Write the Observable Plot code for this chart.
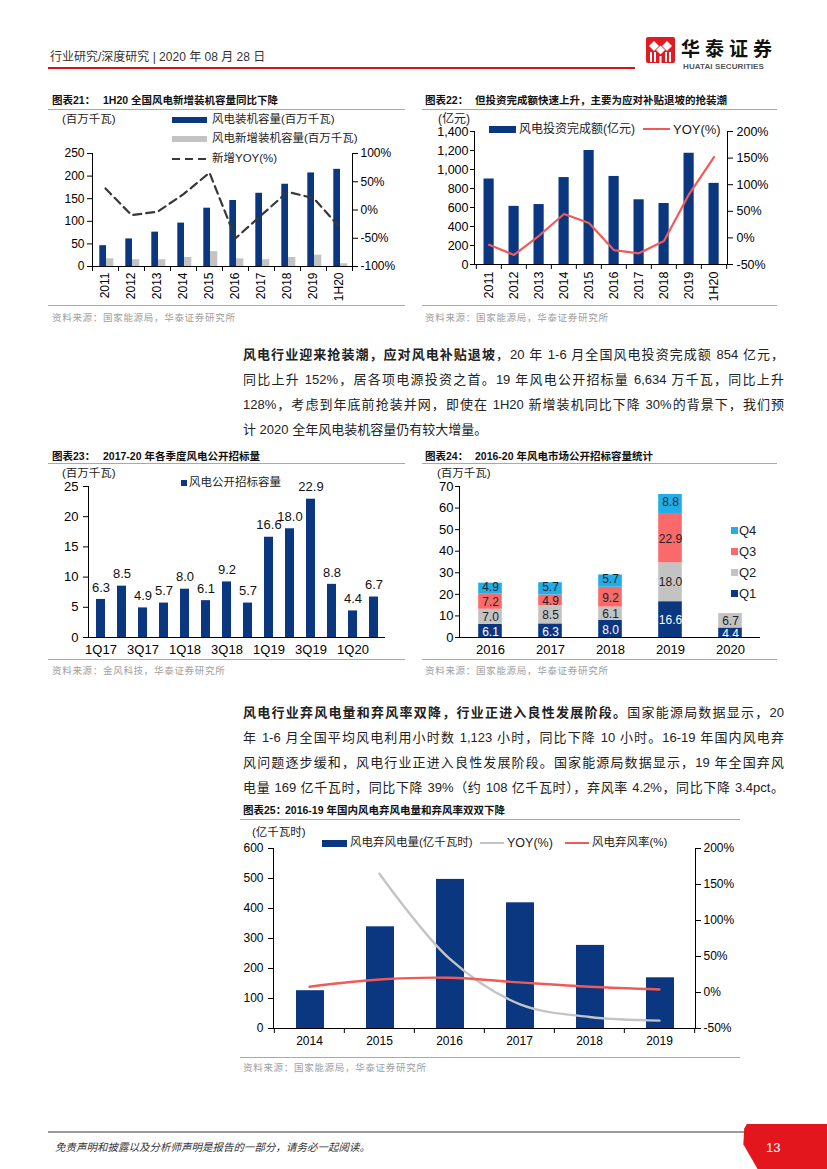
<!DOCTYPE html>
<html><head><meta charset="utf-8">
<script src="https://cdn.jsdelivr.net/npm/d3@7"></script>
<script src="https://cdn.jsdelivr.net/npm/@observablehq/plot@0.6"></script>
<style>
body{margin:0;background:#fff;}
#page{position:relative;width:827px;height:1169px;overflow:hidden;font-family:"Liberation Sans","Noto Sans CJK SC",sans-serif;color:#222;background:#fff;}
.abs{position:absolute;white-space:nowrap;}
.abs svg{display:block;}
.pline{position:absolute;left:243px;width:541px;font-size:13px;line-height:16px;height:16px;text-align:justify;text-align-last:justify;color:#222;}
.pline.last{text-align-last:left;}
.pw{position:absolute;}
.pw svg{display:block;overflow:visible;}
</style></head>
<body><div id="page"></div>
<script>
// ---------- DATA ----------
const years21 = ["2011","2012","2013","2014","2015","2016","2017","2018","2019","1H20"];
const cum21 = [46, 61, 76, 96, 129, 146, 162, 182, 207, 215];
const new21 = [17, 15, 15, 20, 33, 17, 15, 20, 25, 6];
const yoy21 = [38, -9, -3, 28, 66, -50, -9, 32, 21, -30];
const ticksL21 = [0, 50, 100, 150, 200, 250];
const ticksR21 = [-100, -50, 0, 50, 100];

const years22 = ["2011","2012","2013","2014","2015","2016","2017","2018","2019","1H20"];
const inv22 = [900, 612, 631, 915, 1200, 927, 681, 642, 1171, 854];
const yoy22 = [-13, -32, 4, 45, 28, -23, -29, -6, 82, 152];
const ticksL22 = [0, 200, 400, 600, 800, 1000, 1200, 1400];
const ticksR22 = [-50, 0, 50, 100, 150, 200];

const quarters23 = ["1Q17","2Q17","3Q17","4Q17","1Q18","2Q18","3Q18","4Q18","1Q19","2Q19","3Q19","4Q19","1Q20","2Q20"];
const bid23 = [6.3, 8.5, 4.9, 5.7, 8.0, 6.1, 9.2, 5.7, 16.6, 18.0, 22.9, 8.8, 4.4, 6.7];
const shownQuarters23 = ["1Q17","3Q17","1Q18","3Q18","1Q19","3Q19","1Q20"];
const ticks23 = [0, 5, 10, 15, 20, 25];

const years24 = ["2016","2017","2018","2019","2020"];
const q1_24 = [6.1, 6.3, 8.0, 16.6, 4.4];
const q2_24 = [7.0, 8.5, 6.1, 18.0, 6.7];
const q3_24 = [7.2, 4.9, 9.2, 22.9, null];
const q4_24 = [4.9, 5.7, 5.7, 8.8, null];
const quarterNames24 = ["Q1","Q2","Q3","Q4"];
const ticks24 = [0, 10, 20, 30, 40, 50, 60, 70];

const years25 = ["2014","2015","2016","2017","2018","2019"];
const curt25 = [126, 339, 497, 419, 277, 169];
const yoy25 = [null, 165, 47, -16, -34, -39];
const rate25 = [8, 18, 20.5, 14, 8, 4.2];
const ticksL25 = [0, 100, 200, 300, 400, 500, 600];
const ticksR25 = [-50, 0, 50, 100, 150, 200];

// ---------- STYLE ----------
const NAVY = "#0a3780", GREY = "#c3c3c3", RED = "#f25a5a", SALMON = "#fb6a6a", LBLUE = "#21aee8";
const FONT = '"Liberation Sans","Noto Sans CJK SC",sans-serif';
const page = document.getElementById("page");

function addText(html, x, cy, size, extra = "") {
  const d = document.createElement("div");
  d.className = "abs";
  d.style.cssText = `left:${x}px;top:${cy - size / 2}px;font-size:${size}px;line-height:${size}px;height:${size}px;${extra}`;
  d.innerHTML = html;
  page.appendChild(d);
  return d;
}
function addBox(x, y, w, h, css) {
  const d = document.createElement("div");
  d.className = "abs";
  d.style.cssText = `left:${x}px;top:${y}px;width:${w}px;height:${h}px;line-height:0;${css}`;
  page.appendChild(d);
  return d;
}
function addPlot(svg, x, y) {
  const w = document.createElement("div");
  w.className = "pw";
  w.style.left = x + "px"; w.style.top = y + "px";
  w.appendChild(svg);
  page.appendChild(w);
}
const st = (size) => ({background: "transparent", fontFamily: FONT, fontSize: size + "px", color: "#000", overflow: "visible"});

// ---------- HEADER ----------
addText('行业研究/深度研究 <span style="font-family:Liberation Sans">| 2020</span> 年 <span style="font-family:Liberation Sans">08</span> 月 <span style="font-family:Liberation Sans">28</span> 日', 50, 57, 12, "color:#333;");
addBox(48, 67, 587, 1.6, "background:#d7141d;");
// logo
const logo = addBox(646, 37, 29, 26, "background:#e01b22;border-radius:2px;");
logo.innerHTML = '<svg width="29" height="26"><g fill="#fff"><polygon points="3,9 8,4 13,9 8,14"/><polygon points="16,9 21,4 26,9 21,14"/><polygon points="10,13 14.5,8.5 19,13 14.5,17.5"/><rect x="4" y="15" width="2" height="10"/><rect x="8" y="15" width="2" height="10"/><rect x="19" y="15" width="2" height="10"/><rect x="23" y="15" width="2" height="10"/><rect x="13.5" y="19" width="2" height="7"/></g></svg>';
addText("华泰证券", 681, 47, 19, "font-weight:bold;letter-spacing:5px;color:#111;font-family:'Noto Sans CJK SC';");
addText("HUATAI SECURITIES", 683, 66.5, 8, "font-weight:bold;color:#555;letter-spacing:0.1px;");

// ---------- TITLES / SOURCES ----------
function chartTitle(label, rest, x, restX, cy, lineX1, lineX2, lineY) {
  addText(label, x, cy, 10.5, "font-weight:bold;color:#111;");
  addText(rest, restX, cy, 10.5, "font-weight:bold;color:#111;");
  addBox(lineX1, lineY, lineX2 - lineX1, 1.3, "background:#ec8c8c;");
}
function source(text, x, cy, lineX1, lineX2, lineY) {
  addBox(lineX1, lineY, lineX2 - lineX1, 1.3, "background:#ec8c8c;");
  addText(text, x, cy, 9.5, "color:#a0a0a0;letter-spacing:0.7px;");
}
chartTitle("图表21：", "1H20 全国风电新增装机容量同比下降", 52, 103, 100, 48, 405, 109);
chartTitle("图表22：", "但投资完成额快速上升，主要为应对补贴退坡的抢装潮", 425, 475, 100, 422, 777, 109);
source("资料来源：国家能源局，华泰证券研究所", 52, 318, 48, 405, 305);
source("资料来源：国家能源局，华泰证券研究所", 425, 318, 422, 777, 305);
chartTitle("图表23：", "2017-20 年各季度风电公开招标量", 52, 103, 456, 48, 405, 463);
chartTitle("图表24：", "2016-20 年风电市场公开招标容量统计", 425, 475, 456, 422, 777, 463);
source("资料来源：金风科技，华泰证券研究所", 52, 671, 48, 405, 659);
source("资料来源：国家能源局，华泰证券研究所", 425, 671, 422, 777, 659);
chartTitle("图表25：", "2016-19 年国内风电弃风电量和弃风率双双下降", 243, 285, 810, 240, 740, 819);
source("资料来源：国家能源局，华泰证券研究所", 243, 1068, 240, 740, 1057);

// ---------- PARAGRAPHS ----------
function pline(html, cy, last) {
  const d = document.createElement("div");
  d.className = "pline" + (last ? " last" : "");
  d.style.top = (cy - 8) + "px";
  d.innerHTML = html;
  page.appendChild(d);
}
pline("<b>风电行业迎来抢装潮，应对风电补贴退坡</b>，20 年 1-6 月全国风电投资完成额 854 亿元，", 355);
pline("同比上升 152%，居各项电源投资之首。19 年风电公开招标量 6,634 万千瓦，同比上升", 380);
pline("128%，考虑到年底前抢装并网，即使在 1H20 新增装机同比下降 30%的背景下，我们预", 405);
pline("计 2020 全年风电装机容量仍有较大增量。", 430, true);
pline("<b>风电行业弃风电量和弃风率双降，行业正进入良性发展阶段。</b>国家能源局数据显示，20", 713);
pline("年 1-6 月全国平均风电利用小时数 1,123 小时，同比下降 10 小时。16-19 年国内风电弃", 738);
pline("风问题逐步缓和，风电行业正进入良性发展阶段。国家能源局数据显示，19 年全国弃风", 763);
pline("电量 169 亿千瓦时，同比下降 39%（约 108 亿千瓦时），弃风率 4.2%，同比下降 3.4pct。", 788);

// ---------- CHART 21 ----------
{
  const rows = years21.map((c, i) => ({c, cum: cum21[i], add: new21[i], yoy: yoy21[i]}));
  const dim = {width: 360, height: 160, marginTop: 13, marginRight: 48, marginBottom: 34, marginLeft: 52};
  const ph = dim.height - dim.marginTop - dim.marginBottom;
  const step = (dim.width - dim.marginLeft - dim.marginRight) / years21.length;
  const a = Plot.plot({...dim, style: st(12),
    x: {type: "band", domain: years21, padding: 0, label: null},
    y: {domain: [0, 250], label: null},
    marks: [
      Plot.barY(rows, {x: "c", y: "cum", fill: NAVY, insetLeft: 7.3, insetRight: 12}),
      Plot.barY(rows, {x: "c", y: "add", fill: GREY, insetLeft: 14, insetRight: 4.7}),
      Plot.ruleY([0], {stroke: "#000"}),
      Plot.frame({anchor: "left", stroke: "#000"}),
      Plot.axisY({ticks: ticksL21, tickSize: 5, tickPadding: 3, fontSize: 12, label: null}),
      Plot.axisX({tickRotate: -90, tickSize: 0, tickPadding: 6, fontSize: 12, label: null}),
      Plot.ruleX(years21, {dx: -step / 2, insetTop: ph, insetBottom: -5, stroke: "#000"}),
      Plot.ruleX(years21.slice(-1), {dx: step / 2, insetTop: ph, insetBottom: -5, stroke: "#000"})
    ]});
  const b = Plot.plot({...dim, style: st(12),
    x: {type: "band", domain: years21, padding: 0, axis: null},
    y: {domain: [-100, 100], label: null},
    marks: [
      Plot.frame({anchor: "right", stroke: "#000"}),
      Plot.axisY({anchor: "right", ticks: ticksR21, tickFormat: d => d + "%", tickSize: 5, tickPadding: 3, fontSize: 12, label: null}),
      Plot.lineY(rows, {x: "c", y: "yoy", stroke: "#383838", strokeWidth: 2.2, strokeDasharray: "8,5"})
    ]});
  addPlot(a, 40, 140); addPlot(b, 40, 140);
  addText("(百万千瓦)", 62, 120, 11.5);
  addBox(172, 117, 35, 6, `background:${NAVY};`);
  addText("风电装机容量(百万千瓦)", 212, 120, 11.5);
  addBox(172, 136, 35, 6, `background:${GREY};`);
  addText("风电新增装机容量(百万千瓦)", 212, 139, 11.5);
  const dl = addBox(172, 157, 35, 4, "");
  dl.innerHTML = '<svg width="35" height="4" style="display:block"><line x1="0" y1="2" x2="35" y2="2" stroke="#383838" stroke-width="2.2" stroke-dasharray="8,5"/></svg>';
  addText("新增YOY(%)", 212, 159, 11.5);
}

// ---------- CHART 22 ----------
{
  const rows = years22.map((c, i) => ({c, v: inv22[i], yoy: yoy22[i]}));
  const dim = {width: 400, height: 180, marginTop: 11, marginRight: 88, marginBottom: 36, marginLeft: 59};
  const ph = dim.height - dim.marginTop - dim.marginBottom;
  const step = (dim.width - dim.marginLeft - dim.marginRight) / years22.length;
  const a = Plot.plot({...dim, style: st(12),
    x: {type: "band", domain: years22, padding: 0, label: null},
    y: {domain: [0, 1400], label: null},
    marks: [
      Plot.barY(rows, {x: "c", y: "v", fill: NAVY, insetLeft: 7.5, insetRight: 7.3}),
      Plot.ruleY([0], {stroke: "#000"}),
      Plot.frame({anchor: "left", stroke: "#000"}),
      Plot.axisY({ticks: ticksL22, tickFormat: d3.format(","), tickSize: 4, tickPadding: 2, fontSize: 12.5, label: null}),
      Plot.axisX({tickRotate: -90, tickSize: 0, tickPadding: 7, fontSize: 12.5, label: null}),
      Plot.ruleX(years22, {dx: -step / 2, insetTop: ph, insetBottom: -5, stroke: "#000"}),
      Plot.ruleX(years22.slice(-1), {dx: step / 2, insetTop: ph, insetBottom: -5, stroke: "#000"})
    ]});
  const b = Plot.plot({...dim, style: st(12),
    x: {type: "band", domain: years22, padding: 0, axis: null},
    y: {domain: [-50, 200], label: null},
    marks: [
      Plot.frame({anchor: "right", stroke: "#000"}),
      Plot.axisY({anchor: "right", ticks: ticksR22, tickFormat: d => d + "%", tickSize: 5, tickPadding: 4, fontSize: 12.5, label: null}),
      Plot.lineY(rows, {x: "c", y: "yoy", stroke: RED, strokeWidth: 2.2})
    ]});
  addPlot(a, 415, 120); addPlot(b, 415, 120);
  addText("(亿元)", 438, 119, 12);
  addBox(489, 126, 27, 7, `background:${NAVY};`);
  addText("风电投资完成额(亿元)", 519, 129, 12);
  addBox(643, 128, 27, 2.4, `background:${RED};`);
  addText("YOY(%)", 673, 129, 13);
}

// ---------- CHART 23 ----------
{
  const rows = quarters23.map((q, i) => ({q, v: bid23[i]}));
  const dim = {width: 370, height: 190, marginTop: 16, marginRight: 25, marginBottom: 23, marginLeft: 48};
  const a = Plot.plot({...dim, style: st(13),
    x: {type: "band", domain: quarters23, padding: 0, label: null},
    y: {domain: [0, 25], label: null},
    marks: [
      Plot.barY(rows, {x: "q", y: "v", fill: NAVY, insetLeft: 6, insetRight: 6}),
      Plot.text(rows, {x: "q", y: "v", text: d => d.v.toFixed(1), dy: -12, fontSize: 13, fill: "#111"}),
      Plot.ruleY([0], {stroke: "#000"}),
      Plot.frame({anchor: "left", stroke: "#000"}),
      Plot.axisY({ticks: ticks23, tickSize: 5, tickPadding: 5, fontSize: 13, label: null}),
      Plot.axisX({ticks: shownQuarters23, tickSize: 0, tickPadding: 7, fontSize: 13, label: null})
    ]});
  addPlot(a, 40, 470);
  addText("(百万千瓦)", 62, 474, 11.5);
  addBox(181, 480, 6, 6, `background:${NAVY};`);
  addText("风电公开招标容量", 189, 483, 11.5);
}

// ---------- CHART 24 ----------
{
  const series = [q1_24, q2_24, q3_24, q4_24];
  const rows = [];
  years24.forEach((y, i) => series.forEach((arr, k) => { if (arr[i] != null) rows.push({year: y, q: quarterNames24[k], v: arr[i]}); }));
  const dim = {width: 400, height: 190, marginTop: 16, marginRight: 55, marginBottom: 23, marginLeft: 44};
  const lab = (q) => (d) => d.q === q ? d.v.toFixed(1) : "";
  const a = Plot.plot({...dim, style: st(13),
    x: {type: "band", domain: years24, padding: 0, label: null},
    y: {domain: [0, 70], label: null},
    color: {domain: quarterNames24, range: [NAVY, GREY, SALMON, LBLUE]},
    marks: [
      Plot.barY(rows, {x: "year", y: "v", fill: "q", insetLeft: 18.2, insetRight: 18.2}),
      Plot.text(rows, Plot.stackY({x: "year", y: "v", text: lab("Q1"), fill: "#fff", fontSize: 12, dy: 1})),
      Plot.text(rows, Plot.stackY({x: "year", y: "v", text: lab("Q2"), fill: "#222", fontSize: 12})),
      Plot.text(rows, Plot.stackY({x: "year", y: "v", text: lab("Q3"), fill: "#222", fontSize: 12, dy: 1})),
      Plot.text(rows, Plot.stackY({x: "year", y: "v", text: lab("Q4"), fill: "#222", fontSize: 12, dy: -1.5})),
      Plot.ruleY([0], {stroke: "#000"}),
      Plot.frame({anchor: "left", stroke: "#000"}),
      Plot.axisY({ticks: ticks24, tickSize: 4, tickPadding: 2, fontSize: 13, label: null}),
      Plot.axisX({tickSize: 0, tickPadding: 7, fontSize: 13, label: null})
    ]});
  addPlot(a, 415, 470);
  addText("(百万千瓦)", 437, 474, 11.5);
  const legendColors = {Q1: NAVY, Q2: GREY, Q3: SALMON, Q4: LBLUE};
  const legendY = {Q4: 530, Q3: 551, Q2: 572, Q1: 593};
  ["Q4", "Q3", "Q2", "Q1"].forEach(q => {
    addBox(731, legendY[q] - 3.5, 7, 7, `background:${legendColors[q]};`);
    addText(q, 739, legendY[q], 13, "color:#222;");
  });
}

// ---------- CHART 25 ----------
{
  const rows = years25.map((c, i) => ({c, v: curt25[i], yoy: yoy25[i], rate: rate25[i]}));
  const dim = {width: 560, height: 225, marginTop: 13, marginRight: 105, marginBottom: 32, marginLeft: 33};
  const ph = dim.height - dim.marginTop - dim.marginBottom;
  const step = (dim.width - dim.marginLeft - dim.marginRight) / years25.length;
  const a = Plot.plot({...dim, style: st(12),
    x: {type: "band", domain: years25, padding: 0, label: null},
    y: {domain: [0, 600], label: null},
    marks: [
      Plot.barY(rows, {x: "c", y: "v", fill: NAVY, insetLeft: 22, insetRight: 20}),
      Plot.ruleY([0], {stroke: "#000"}),
      Plot.frame({anchor: "left", stroke: "#000"}),
      Plot.axisY({ticks: ticksL25, tickSize: 5, tickPadding: 5, fontSize: 12, label: null}),
      Plot.axisX({tickSize: 0, tickPadding: 8, fontSize: 12, label: null}),
      Plot.ruleX(years25, {dx: -step / 2, insetTop: ph, insetBottom: -5, stroke: "#000"}),
      Plot.ruleX(years25.slice(-1), {dx: step / 2, insetTop: ph, insetBottom: -5, stroke: "#000"})
    ]});
  const b = Plot.plot({...dim, style: st(12),
    x: {type: "band", domain: years25, padding: 0, axis: null},
    y: {domain: [-50, 200], label: null},
    marks: [
      Plot.frame({anchor: "right", stroke: "#000"}),
      Plot.axisY({anchor: "right", ticks: ticksR25, tickFormat: d => d + "%", tickSize: 5, tickPadding: 3, fontSize: 12, label: null}),
      Plot.lineY(rows, {x: "c", y: "yoy", stroke: "#c4c4c4", strokeWidth: 2.4, curve: "catmull-rom"}),
      Plot.lineY(rows, {x: "c", y: "rate", stroke: RED, strokeWidth: 2.4, curve: "catmull-rom"})
    ]});
  addPlot(a, 240, 835); addPlot(b, 240, 835);
  addText("(亿千瓦时)", 252, 833, 11.5);
  addBox(322, 840, 25, 7, `background:${NAVY};`);
  addText("风电弃风电量(亿千瓦时)", 350, 843, 11.5);
  addBox(480, 842, 24, 2.4, "background:#c4c4c4;");
  addText("YOY(%)", 507, 843, 12.5);
  addBox(565, 842, 24, 2.4, `background:${RED};`);
  addText("风电弃风率(%)", 592, 843, 11.5);
}

// ---------- FOOTER ----------
addBox(48, 1131, 700, 1.5, "background:#9a9a9a;");
addText("免责声明和披露以及分析师声明是报告的一部分，请务必一起阅读。", 55, 1147, 10.5, "font-style:italic;color:#333;");
addBox(738, 1124, 89, 45, "background:#e3161d;clip-path:polygon(10% 0,100% 0,100% 100%,22% 100%,6% 45%,7% 10%);");
addText("13", 766, 1147, 13, "color:#fff;");
</script></body></html>
